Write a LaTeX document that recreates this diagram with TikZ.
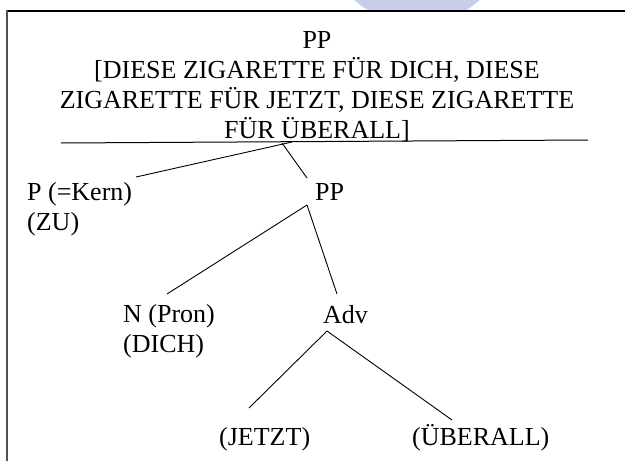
\documentclass[tikz,border=0pt]{standalone}
\usepackage{fontspec}
\setmainfont{Liberation Serif}
\definecolor{wmblue}{RGB}{200,205,232}
\definecolor{framegray}{RGB}{80,80,80}
\begin{document}
\begin{tikzpicture}[x=1pt,y=-1pt,
  lbl/.style={font=\fontsize{26}{30}\selectfont, inner sep=0pt},
  branch/.style={line width=0.9pt}]
\useasboundingbox (0,0) rectangle (625,461);
\fill[white] (0,0) rectangle (625,461);

% faint mark above the frame
\begin{scope}
  \clip (0,0) rectangle (625,11);
  \fill[wmblue] (417,-70) circle[radius=94pt];
\end{scope}

% frame: top and left edges
\draw[line width=1.4pt] (7,11) -- (625,11);
\draw[line width=2pt, framegray] (7,10.3) -- (7,461);

% root phrase with its underline (base anchor = last line)
\node[lbl, align=center, anchor=base] (root) at (317,138)
  {PP\\{[}DIESE ZIGARETTE FÜR DICH, DIESE\\ZIGARETTE FÜR JETZT, DIESE ZIGARETTE\\FÜR ÜBERALL]};
\coordinate (ulA) at (61,143);
\coordinate (ulB) at (588,140);
\draw[line width=1pt] (ulA) -- (ulB);

% tree labels
\node[lbl, align=left, anchor=base west] (kern) at (27,230) {P (=Kern)\\(ZU)};
\node[lbl, anchor=base west] (pp) at (315,200) {PP};
\node[lbl, align=left, anchor=base west] (pron) at (123,352) {N (Pron)\\(DICH)};
\node[lbl, anchor=base west] (adv) at (323,323) {Adv};
\node[lbl, anchor=base west] (jetzt) at (219,445) {(JETZT)};
\node[lbl, anchor=base west] (ueberall) at (412,445) {(ÜBERALL)};

% attachment points of the branches
\coordinate (rootL) at (292,142);
\coordinate (rootR) at (282,143);
\coordinate (kernTop) at (136,177);
\coordinate (ppTop) at (307,178);
\coordinate (ppBot) at (307,205);
\coordinate (pronTop) at (167,294);
\coordinate (advTop) at (337,294);
\coordinate (advBot) at (327,331);
\coordinate (jetztTop) at (249,408);
\coordinate (ueberTop) at (452,420);

% branches
\draw[branch] (rootL) -- (kernTop);
\draw[branch] (rootR) -- (ppTop);
\draw[branch] (ppBot) -- (pronTop);
\draw[branch] (ppBot) -- (advTop);
\draw[branch] (advBot) -- (jetztTop);
\draw[branch] (advBot) -- (ueberTop);
\end{tikzpicture}
\end{document}
